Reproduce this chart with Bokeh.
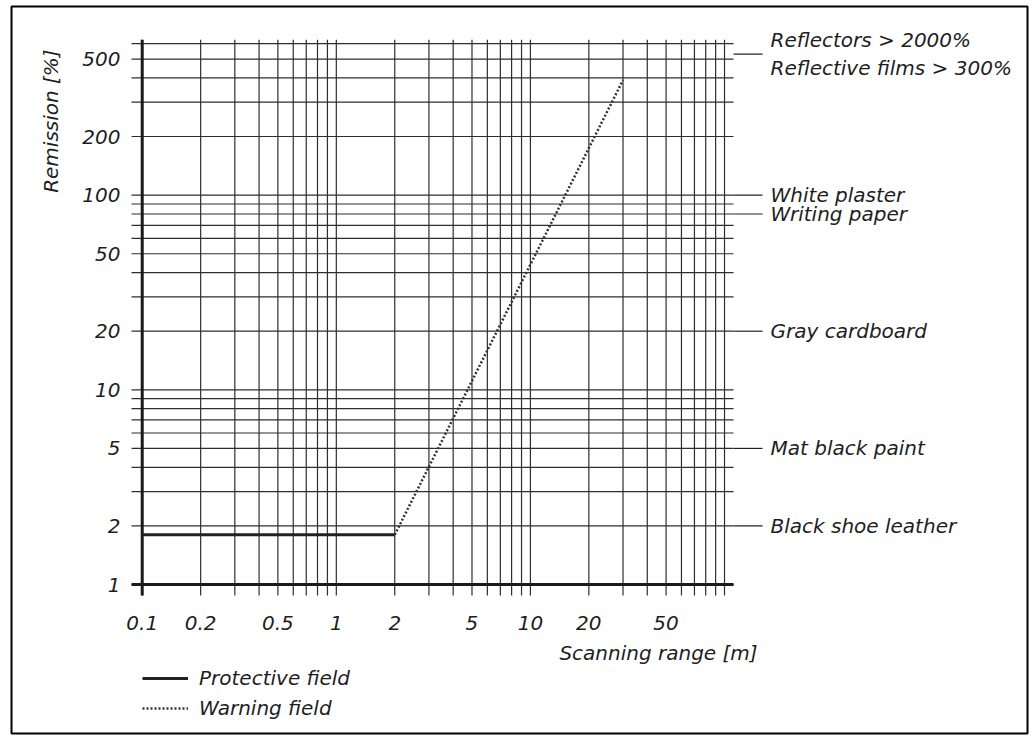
import math
from bokeh.plotting import figure
from bokeh.models import Legend, LegendItem, Range1d
from bokeh.embed import file_html
from bokeh.resources import INLINE
from bokeh.core.properties import value

# ---------------- data ----------------
x_grid = [0.1, 0.2, 0.3, 0.4, 0.5, 0.6, 0.7, 0.8, 0.9,
          1, 2, 3, 4, 5, 6, 7, 8, 9,
          10, 20, 30, 40, 50, 60, 70, 80, 90, 100]
y_grid = [1, 2, 3, 4, 5, 6, 7, 8, 9,
          10, 20, 30, 40, 50, 60, 70, 80, 90,
          100, 200, 300, 400, 500, 600]
x_ticks = [0.1, 0.2, 0.5, 1, 2, 5, 10, 20, 50]
x_tick_labels = ["0.1", "0.2", "0.5", "1", "2", "5", "10", "20", "50"]
y_ticks = [1, 2, 5, 10, 20, 50, 100, 200, 500]
y_tick_labels = ["1", "2", "5", "10", "20", "50", "100", "200", "500"]

protective_range = [0.1, 2]
protective_remission = [1.8, 1.8]
warning_range = [2, 30]
warning_remission = [1.8, 390]

material_remission = [530, 100, 80, 20, 5, 2]
material_lines = [["Reflectors > 2000%", "Reflective films > 300%"],
                  ["White plaster"], ["Writing paper"], ["Gray cardboard"],
                  ["Mat black paint"], ["Black shoe leather"]]

# ---------------- layout / style ----------------
FONT = value("DejaVu Sans")
FS = "20px"
TXT = "#1e1e1e"
GRID = "#2e2e2e"

# extent of the drawn grid (data units)
x_lo, x_hi = 0.0881, 111.3
y_lo, y_hi = 0.878, 628.6
leader_end = 157          # right end of the leader lines (data x)

p = figure(width=1034, height=740, x_axis_type="log", y_axis_type="log",
           x_axis_location=None, y_axis_location=None,
           x_range=Range1d(0.02121, 3639), y_range=Range1d(0.1717, 930.6),
           output_backend="svg", toolbar_location=None,
           min_border_left=11, min_border_right=7,
           min_border_top=6, min_border_bottom=7)
p.grid.visible = False
p.outline_line_color = "black"
p.outline_line_width = 2
p.background_fill_color = "white"
p.border_fill_color = "white"

# grid lines
nx, ny = len(x_grid), len(y_grid)
p.segment(x0=x_grid, y0=[y_lo] * nx, x1=x_grid, y1=[y_hi] * nx,
          line_color=GRID, line_width=1.2)
p.segment(x0=[x_lo] * ny, y0=y_grid, x1=[x_hi] * ny, y1=y_grid,
          line_color=GRID, line_width=1.2)
# thick axis lines at 0.1 m and 1 %
p.segment(x0=[x_grid[0]], y0=[y_lo], x1=[x_grid[0]], y1=[y_hi],
          line_color="#1a1a1a", line_width=3)
p.segment(x0=[x_lo], y0=[y_grid[0]], x1=[x_hi], y1=[y_grid[0]],
          line_color="#1a1a1a", line_width=3)

# tick labels
p.text(x=x_ticks, y=[y_lo] * len(x_ticks), text=x_tick_labels,
       y_offset=27, text_align="center", text_baseline="middle",
       text_font=FONT, text_font_style="italic", text_font_size=FS,
       text_color=TXT)
p.text(x=[x_lo] * len(y_ticks), y=y_ticks, text=y_tick_labels,
       x_offset=-11, text_align="right", text_baseline="middle",
       text_font=FONT, text_font_style="italic", text_font_size=FS,
       text_color=TXT)

# axis titles
p.text(x=[x_lo], y=[240], text=["Remission [%]"], x_offset=-81,
       angle=math.pi / 2, text_align="center", text_baseline="middle",
       text_font=FONT, text_font_style="italic", text_font_size=FS,
       text_color=TXT)
p.text(x=[45.7], y=[y_lo], text=["Scanning range [m]"], y_offset=57,
       text_align="center", text_baseline="middle",
       text_font=FONT, text_font_style="italic", text_font_size=FS,
       text_color=TXT)

# data lines
r_prot = p.line(protective_range, protective_remission,
                line_color="#222222", line_width=3)
r_warn = p.line(warning_range, warning_remission,
                line_color="#333333", line_width=2.5, line_dash="2 2")

legend = Legend(items=[LegendItem(label="Protective field", renderers=[r_prot]),
                       LegendItem(label="Warning field", renderers=[r_warn])],
                location=(131, 13), padding=0, margin=0, spacing=6,
                glyph_width=46, glyph_height=20, label_height=20,
                label_standoff=11, background_fill_alpha=0,
                border_line_color=None,
                label_text_font="DejaVu Sans", label_text_font_style="italic",
                label_text_font_size=FS, label_text_color=TXT)
p.add_layout(legend)

# material annotations on the right
nm = len(material_remission)
p.segment(x0=[x_hi] * nm, y0=material_remission,
          x1=[leader_end] * nm, y1=material_remission,
          line_color="#222222", line_width=1.2)
mx, my, mt, mo = [], [], [], []
for val, lines in zip(material_remission, material_lines):
    n = len(lines)
    for i, t in enumerate(lines):
        mx.append(leader_end)
        my.append(val)
        mt.append(t)
        mo.append(-(n - 1) * 14 + i * 28)
p.text(x=mx, y=my, text=mt, x_offset=8, y_offset=mo,
       text_align="left", text_baseline="middle",
       text_font=FONT, text_font_style="italic", text_font_size=FS,
       text_color=TXT)

open("out.html", "w").write(file_html(p, INLINE))
